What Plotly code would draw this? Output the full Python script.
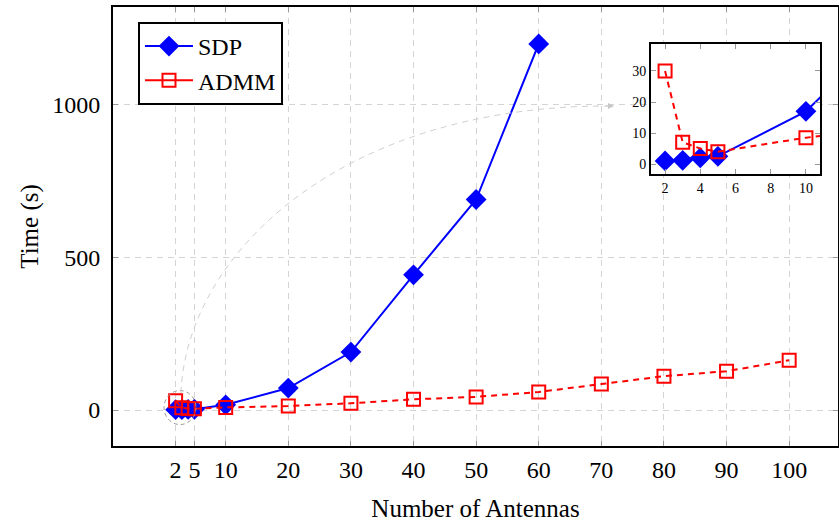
import plotly.graph_objects as go

antennas_sdp = [2, 3, 4, 5, 10, 20, 30, 40, 50, 60]
time_sdp = [1.0, 1.2, 2.0, 2.5, 17, 72, 190, 443, 690, 1200]
antennas_admm = [2, 3, 4, 5, 10, 20, 30, 40, 50, 60, 70, 80, 90, 100]
time_admm = [30, 7, 5, 4, 8.5, 13, 22, 35, 43, 59, 85, 111, 127, 163]
series_names = ["SDP", "ADMM"]
x_ticks = [2, 5, 10, 20, 30, 40, 50, 60, 70, 80, 90, 100]
y_ticks = [0, 500, 1000]
inset_x_ticks = [2, 4, 6, 8, 10]
inset_y_ticks = [0, 10, 20, 30]

W, H = 839, 527
L, R, T, B = 113, 838, 7, 446
FONT = "Liberation Serif"
BLUE = "#0000ff"
RED = "#ff0000"
GRID = "#d4d4d4"


def px(xp):
    return (xp - L) / (R - L)


def py(yp):
    return (B - yp) / (B - T)


fig = go.Figure()

sdp_marker = dict(symbol="diamond", size=16, color=BLUE)
admm_marker = dict(symbol="square-open", size=13, color=RED, line=dict(color=RED, width=2))
sdp_style = dict(mode="lines+markers", line=dict(color=BLUE, width=2), marker=sdp_marker)
admm_style = dict(mode="lines+markers", line=dict(color=RED, width=2, dash="6px,5px"),
                  marker=admm_marker)

# main axes
fig.add_trace(go.Scatter(x=antennas_sdp, y=time_sdp, showlegend=False, **sdp_style))
fig.add_trace(go.Scatter(x=antennas_admm, y=time_admm, showlegend=False, **admm_style))
# inset axes
fig.add_trace(go.Scatter(x=antennas_sdp, y=time_sdp, showlegend=False, xaxis="x2", yaxis="y2", **sdp_style))
fig.add_trace(go.Scatter(x=antennas_admm, y=time_admm, showlegend=False, xaxis="x2", yaxis="y2", **admm_style))
# legend entries (solid line samples as in the reference legend)
fig.add_trace(go.Scatter(x=[None], y=[None], name=series_names[0], mode="lines+markers",
                         line=dict(color=BLUE, width=2), marker=sdp_marker))
fig.add_trace(go.Scatter(x=[None], y=[None], name=series_names[1], mode="lines+markers",
                         line=dict(color=RED, width=2), marker=admm_marker))

axis_common = dict(showline=True, linecolor="black", linewidth=2, mirror="ticks",
                   ticks="inside", ticklen=5, tickcolor="#999999", zeroline=False,
                   automargin=False)

fig.update_layout(
    width=W, height=H,
    margin=dict(l=L, r=W - R, t=T, b=H - B),
    plot_bgcolor="white", paper_bgcolor="white",
    font=dict(family=FONT, size=24, color="black"),
    xaxis=dict(range=[-8, 107.8], tickvals=x_ticks, showgrid=True, gridcolor=GRID,
               griddash="6px,5px", gridwidth=1, ticklabelstandoff=1,
               tickfont=dict(size=24),
               title=dict(text="Number of Antennas", standoff=18, font=dict(size=25)),
               **axis_common),
    yaxis=dict(range=[-118, 1321], tickvals=y_ticks, showgrid=True, gridcolor=GRID,
               griddash="6px,5px", gridwidth=1, ticklabelstandoff=6,
               tickfont=dict(size=24),
               title=dict(text="Time (s)", standoff=6, font=dict(size=25)),
               **axis_common),
    xaxis2=dict(domain=[px(651), px(820)], anchor="y2", range=[1.2, 10.8],
                tickvals=inset_x_ticks, showgrid=False, tickfont=dict(size=14),
                **axis_common),
    yaxis2=dict(domain=[py(174), py(44)], anchor="x2", range=[-3.2, 38.7],
                tickvals=inset_y_ticks, showgrid=False, tickfont=dict(size=14),
                **axis_common),
    legend=dict(x=px(138), y=py(22), xanchor="left", yanchor="top",
                bordercolor="black", borderwidth=2, bgcolor="white",
                font=dict(size=24), itemwidth=48),
)

# spy circle around the small-antenna points
fig.add_shape(type="circle", xref="x", yref="y", xsizemode="pixel", ysizemode="pixel",
              xanchor=2.7, yanchor=8, x0=-16, x1=16, y0=-17, y1=17,
              line=dict(color="#9a9a9a", width=1, dash="4px,3px"))

# curved connector to the inset
p0 = (px(181), py(393))
p1 = (px(186), py(255))
p2 = (px(340), py(106))
p3 = (px(608), py(106))
path = "M {} {} C {} {}, {} {}, {} {}".format(p0[0], p0[1], p1[0], p1[1], p2[0], p2[1], p3[0], p3[1])
fig.add_shape(type="path", xref="paper", yref="paper", path=path,
              line=dict(color="#d0d0d0", width=1, dash="6px,5px"))
fig.add_annotation(xref="paper", yref="paper", x=px(614), y=py(106), ax=-10, ay=0,
                   text="", showarrow=True, arrowhead=2, arrowsize=1.2, arrowwidth=1,
                   arrowcolor="#c8c8c8")

fig.write_html("out.html", config={"displayModeBar": False},
               post_script="document.body.style.margin='0px';")
